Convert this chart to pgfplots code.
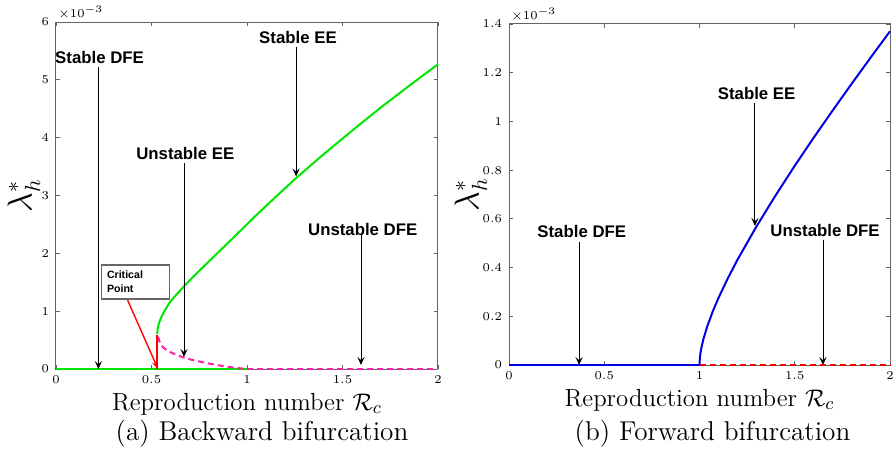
\documentclass[border=0pt]{standalone}
\usepackage{fontspec}
\usepackage{pgfplots}
\pgfplotsset{compat=1.18}
\usetikzlibrary{arrows.meta}
\newfontfamily\arial{Liberation Sans}
\definecolor{eegreen}{RGB}{0,230,0}
\definecolor{eepink}{RGB}{255,30,170}
\definecolor{eeblue}{RGB}{0,0,230}
\definecolor{eered}{RGB}{255,0,0}
\definecolor{framegray}{RGB}{100,100,100}

\pgfplotsset{
  bif/.style={
    scale only axis,
    xmin=0, xmax=2, ymin=0,
    xtick={0,0.5,1,1.5,2},
    tick align=inside, major tick length=2pt,
    axis line style={framegray, line width=0.5pt},
    tick style={framegray, line width=0.4pt},
    tick label style={font=\fontsize{6}{7}\selectfont},
    xlabel={Reproduction number $\mathcal{R}_c$},
    xlabel style={font=\fontsize{12.4}{14}\selectfont, at={(axis description cs:0.5,0)}, anchor=base, yshift=-20.5pt},
    ylabel={$\lambda_h^*$},
    ylabel style={font=\fontsize{16}{18}\selectfont, anchor=center},
    clip=false,
  },
}
\tikzset{
  ann/.style={font=\arial\bfseries\fontsize{8.4}{10}\selectfont, inner sep=0pt},
  arr/.style={black, line width=0.45pt, -{Stealth[length=4pt,width=3.6pt,inset=1.6pt]}},
}

\begin{document}
\begin{tikzpicture}
\useasboundingbox (-28pt,-40.5pt) rectangle (419pt,184.5pt);

% (a) backward bifurcation, values in units of 1e-3
\begin{axis}[bif, name=left, at={(0pt,0pt)}, anchor=south west,
    width=191pt, height=173.5pt,
    ymax=6, ytick={0,1,...,6},
    ylabel style={at={(axis description cs:-0.084,0.5)}}]
\addplot[eegreen, line width=1.3pt] coordinates {(0,0) (1,0)};
\addplot[eepink, line width=1pt, dash pattern=on 3pt off 2pt] coordinates {(1,0) (2,0)};
\addplot[eepink, line width=1pt, dash pattern=on 3pt off 2pt] coordinates {
  (0.535,0.56) (0.54,0.49) (0.55,0.42) (0.562,0.37) (0.58,0.325) (0.60,0.29)
  (0.63,0.245) (0.667,0.20) (0.71,0.16) (0.75,0.13) (0.80,0.095) (0.84,0.07)
  (0.88,0.048) (0.93,0.025) (0.97,0.01) (1.0,0)};
\addplot[eered, line width=1pt] coordinates {(0.53,0) (0.53,0.58)};
\addplot[eegreen, line width=1pt] coordinates {
  (0.530,0.60) (0.532,0.685) (0.535,0.74) (0.54,0.80) (0.55,0.885) (0.56,0.955)
  (0.58,1.07) (0.60,1.17) (0.63,1.285) (0.67,1.43) (0.72,1.60) (0.78,1.795)
  (0.85,2.02) (0.95,2.34) (1.05,2.665) (1.15,2.975) (1.26,3.31) (1.40,3.71)
  (1.55,4.12) (1.70,4.52) (1.85,4.90) (2.00,5.27)};

\node[anchor=south west, inner sep=1pt, font=\fontsize{6}{7}\selectfont] at (rel axis cs:0,1) {$\times10^{-3}$};

\node[ann] at (axis cs:0.228,5.39) {Stable DFE};
\draw[arr] (axis cs:0.222,5.22) -- (axis cs:0.222,0);
\node[ann] at (axis cs:1.267,5.74) {Stable EE};
\draw[arr] (axis cs:1.257,5.57) -- (axis cs:1.257,3.33);
\node[ann] at (axis cs:0.677,3.73) {Unstable EE};
\draw[arr] (axis cs:0.670,3.56) -- (axis cs:0.670,0.21);
\node[ann] at (axis cs:1.606,2.42) {Unstable DFE};
\draw[arr] (axis cs:1.597,2.32) -- (axis cs:1.597,0.07);

\draw[black!60, line width=0.6pt, fill=white] (axis cs:0.239,1.21) rectangle (axis cs:0.593,1.80);
\node[ann, font=\arial\bfseries\fontsize{5.3}{6}\selectfont, anchor=west] at (axis cs:0.265,1.625) {Critical};
\node[ann, font=\arial\bfseries\fontsize{5.3}{6}\selectfont, anchor=west] at (axis cs:0.265,1.38) {Point};
\draw[eered, line width=0.7pt, -{Stealth[length=4pt,width=3pt,inset=1.4pt]}] (axis cs:0.375,1.19) -- (axis cs:0.534,0);
\end{axis}

% (b) forward bifurcation
\begin{axis}[bif, name=right, at={(226.5pt,2pt)}, anchor=south west,
    width=190.5pt, height=170.5pt,
    ymax=1.4, ytick={0,0.2,...,1.4},
    ylabel style={at={(axis description cs:-0.100,0.5)}}]
\addplot[eeblue, line width=1.3pt] coordinates {(0,0) (1,0)};
\addplot[eered, line width=1pt, dash pattern=on 3pt off 2pt] coordinates {(1,0) (2,0)};
\addplot[eeblue, line width=1pt] coordinates {
  (1,0) (1.002,0.030) (1.005,0.049) (1.01,0.071) (1.02,0.105) (1.04,0.157)
  (1.07,0.221) (1.1,0.276) (1.15,0.358) (1.2,0.433) (1.3,0.570) (1.4,0.697)
  (1.5,0.818) (1.6,0.934) (1.7,1.046) (1.8,1.156) (1.9,1.264) (2,1.37)};

\node[anchor=south west, inner sep=1pt, font=\fontsize{6}{7}\selectfont] at (rel axis cs:0,1) {$\times10^{-3}$};

\node[ann] at (axis cs:1.30,1.115) {Stable EE};
\draw[arr] (axis cs:1.291,1.076) -- (axis cs:1.291,0.571);
\node[ann] at (axis cs:0.382,0.547) {Stable DFE};
\draw[arr] (axis cs:0.368,0.506) -- (axis cs:0.368,0);
\node[ann] at (axis cs:1.659,0.554) {Unstable DFE};
\draw[arr] (axis cs:1.648,0.513) -- (axis cs:1.648,0);
\end{axis}

\node[anchor=base, font=\fontsize{13.6}{15}\selectfont] at (103pt,-35.5pt) {(a) Backward bifurcation};
\node[anchor=base, font=\fontsize{13.6}{15}\selectfont] at (328.25pt,-35.5pt) {(b) Forward bifurcation};
\end{tikzpicture}
\end{document}
